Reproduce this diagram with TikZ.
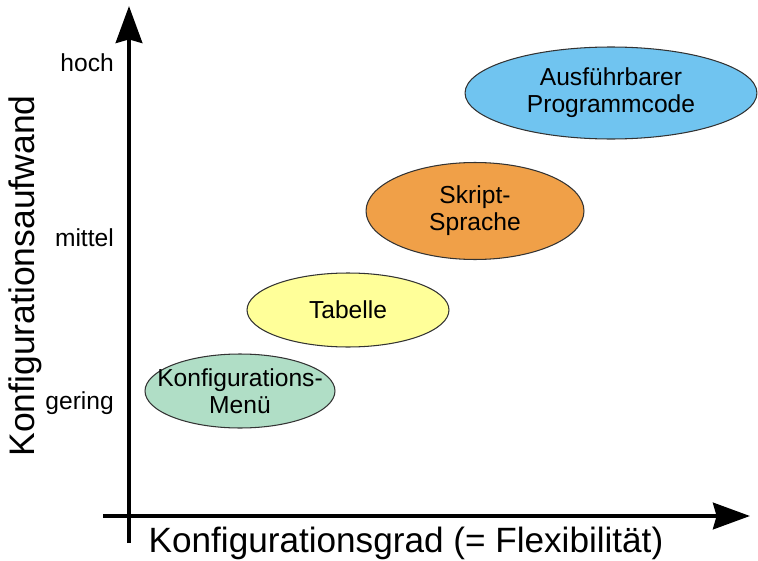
\documentclass[tikz,border=0pt]{standalone}
\usepackage{fontspec}
\setmainfont{Liberation Sans}
\usetikzlibrary{shapes.geometric,arrows.meta}
\definecolor{mint}{RGB}{176,222,198}
\definecolor{hellgelb}{RGB}{255,255,153}
\definecolor{orange}{RGB}{240,160,72}
\definecolor{himmel}{RGB}{112,196,240}
\begin{document}
\begin{tikzpicture}[x=0.02cm,y=-0.02cm,line join=round,
	achse/.style={line width=2.6pt,-{Stealth[length=21pt,width=15pt,inset=2pt]}},
	blase/.style={ellipse,draw=black!80,line width=0.6pt,inner sep=0pt},
	btext/.style={align=center,font=\fontsize{14}{15.5}\selectfont}]
	\useasboundingbox (0,0) rectangle (758,561);
	\coordinate (x0) at (103,516); \coordinate (x1) at (750,516);
	\coordinate (y0) at (129,543); \coordinate (y1) at (129,6);
	\draw[achse] (x0)--(x1);
	\draw[achse] (y0)--(y1);
	%\draw[help lines] (0,0) grid[step=50] (758,561);
	\foreach \t/\y in {hoch/63,mittel/238,gering/403}{\node[btext,anchor=east] (\t) at (120,\y){\t};}
	\node[rotate=90,font=\fontsize{20.2}{22}\selectfont] (yl) at (25,276){Konfigurationsaufwand};
	\node[font=\fontsize{20}{22}\selectfont] (xl) at (406,543){Konfigurationsgrad (= Flexibilität)};
	\node[blase,fill=mint,minimum width=3.8cm,minimum height=1.48cm,label={[btext]center:Konfigurations-\\Menü}] (menu) at (240,391){};
	\node[blase,fill=hellgelb,minimum width=4.04cm,minimum height=1.48cm,label={[btext]center:Tabelle}] (tab) at (348,310){};
	\node[blase,fill=orange,minimum width=4.36cm,minimum height=1.94cm,label={[btext]center:Skript-\\Sprache}] (skript) at (475,211){};
	\node[blase,fill=himmel,minimum width=5.84cm,minimum height=1.84cm,label={[btext]center:Ausführbarer\\Programmcode}] (prog) at (611,93){};
\end{tikzpicture}
\end{document}
